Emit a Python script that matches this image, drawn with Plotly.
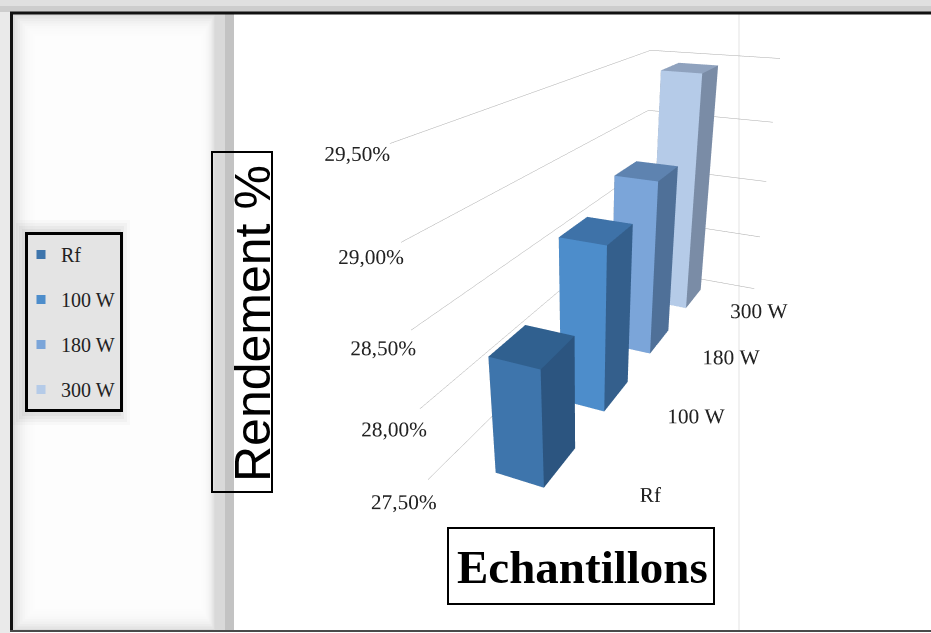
import plotly.graph_objects as go

# Samples along the depth axis and their yield (%)
series = ["Rf", "100 W", "180 W", "300 W"]
rendement = [28.30, 28.70, 28.86, 29.45]

# Value-axis ticks
z_ticks = [27.5, 28.0, 28.5, 29.0, 29.5]
z_text = [f"{v:.2f}%".replace(".", ",") for v in z_ticks]
z_base = z_ticks[0]

# Face colours per series (front, side, top)
front_col = ["#3E75AC", "#4D8DCB", "#7BA5D9", "#B5CBE8"]
side_col = ["#2C5580", "#345F8C", "#4F7098", "#7A8CA6"]
top_col = ["#30608F", "#3E72A8", "#5E83B0", "#8FA2BE"]

W, H = 931, 633


def X(p):
    """pixel column -> paper x"""
    return p / W


def Y(p):
    """pixel row -> paper y"""
    return 1 - p / H


BAR_W = 0.30    # bar width along the category axis
BAR_D = 0.48    # bar depth along the series axis
X_SHIFT = 0.048  # category axis offset

fig = go.Figure()

TRI = [(0, 1, 2), (0, 2, 3),      # bottom
       (4, 5, 6), (4, 6, 7),      # top
       (0, 1, 5), (0, 5, 4),      # front
       (3, 2, 6), (3, 6, 7),      # back
       (0, 3, 7), (0, 7, 4),      # left
       (1, 2, 6), (1, 6, 5)]      # right

for i, (name, val) in enumerate(zip(series, rendement)):
    x0, x1 = -BAR_W / 2, BAR_W / 2
    y0, y1 = i - BAR_D / 2, i + BAR_D / 2
    z0, z1 = z_base, val
    xs = [x0, x1, x1, x0, x0, x1, x1, x0]
    ys = [y0, y0, y1, y1, y0, y0, y1, y1]
    zs = [z0, z0, z0, z0, z1, z1, z1, z1]
    fc = ([side_col[i]] * 2 + [top_col[i]] * 2 + [front_col[i]] * 2
          + [side_col[i]] * 6)
    fig.add_trace(go.Mesh3d(
        x=xs, y=ys, z=zs,
        i=[t[0] for t in TRI], j=[t[1] for t in TRI], k=[t[2] for t in TRI],
        facecolor=fc, flatshading=True,
        lighting=dict(ambient=1.0, diffuse=0.0, specular=0.0, roughness=1.0, fresnel=0.0),
        showlegend=False, hoverinfo="skip"))
    # legend entry (a square swatch sitting inside the bar)
    fig.add_trace(go.Scatter3d(
        x=[0], y=[i], z=[(z_base + val) / 2], mode="markers",
        marker=dict(symbol="square", size=9, color=front_col[i]),
        name=name, legendgroup=name, showlegend=True, hoverinfo="skip"))

axis_common = dict(showbackground=False, showspikes=False, zeroline=False,
                   showline=False, title=dict(text=""), tickangle=0)

fig.update_layout(
    width=W, height=H, margin=dict(l=0, r=0, t=0, b=0), paper_bgcolor="white",
    scene=dict(
        domain=dict(x=[X(231), 1.0], y=[0.0, 1.0]),
        bgcolor="rgba(0,0,0,0)",
        xaxis=dict(range=[X_SHIFT - 0.5, X_SHIFT + 0.5], showgrid=False,
                   showticklabels=False, ticks="", **axis_common),
        yaxis=dict(range=[-0.5, len(series) - 0.5], tickvals=list(range(len(series))),
                   ticktext=series, showgrid=False, ticks="",
                   tickfont=dict(family="Liberation Serif", size=16, color="#222"),
                   **axis_common),
        zaxis=dict(range=[z_ticks[0], z_ticks[-1]], tickvals=z_ticks, ticktext=z_text,
                   showgrid=True, gridcolor="#ABABAB", gridwidth=1,
                   ticks="outside", ticklen=18, tickcolor="white",
                   tickfont=dict(family="Liberation Serif", size=16, color="#222"),
                   **axis_common),
        aspectmode="manual",
        aspectratio=dict(x=0.544, y=1.752, z=1.0),
        camera=dict(eye=dict(x=0.906, y=-2.312, z=0.950),
                    center=dict(x=0.044, y=-0.484, z=-0.070),
                    up=dict(x=0, y=0, z=1), projection=dict(type="perspective")),
    ),
    legend=dict(x=X(25), y=Y(232), xanchor="left", yanchor="top",
                bgcolor="#E4E4E4", bordercolor="#000000", borderwidth=3,
                font=dict(family="Liberation Serif", size=20, color="#222"),
                tracegroupgap=16, indentation=-7),
)

shapes = []


def rect(x0, y0, x1, y1, fill="rgba(0,0,0,0)", line=None, layer="below"):
    shapes.append(dict(type="rect", xref="paper", yref="paper",
                       x0=X(x0), x1=X(x1), y0=Y(y1), y1=Y(y0),
                       fillcolor=fill, line=line or dict(width=0), layer=layer))


def hline(x0, x1, y, color, width):
    shapes.append(dict(type="line", xref="paper", yref="paper", x0=X(x0), x1=X(x1),
                       y0=Y(y), y1=Y(y), line=dict(color=color, width=width), layer="above"))


def vline(x, y0, y1, color, width, layer="above"):
    shapes.append(dict(type="line", xref="paper", yref="paper", x0=X(x), x1=X(x),
                       y0=Y(y0), y1=Y(y1), line=dict(color=color, width=width), layer=layer))


# grey shadow around the frame
rect(0, 0, W, 6, "#E0E0E0")
rect(0, 6, W, 12, "#CDCDCD")
rect(0, 12, 10, H, "#EAEAEA")
# left panel: grey edges fading to white
rect(13, 14, 215, 631, "#DCDCDC")
for k in range(12):
    m = 2 + 2.5 * k
    rect(13 + m, 14 + m, 215 - m * 0.6, 631 - m, "rgba(255,255,255,0.28)")
# separator bands between the panel and the plot area
rect(215, 14, 225, 631, "#D9D9D9")
rect(225, 14, 234, 631, "#C3C3C3")
# soft glow behind the legend
for k, a in enumerate([0.04, 0.05, 0.06, 0.07]):
    m = 12 - 3 * k
    rect(25 - m, 232 - m, 118 + m, 413 + m, f"rgba(120,120,120,{a})")
# faint vertical rule in the plot area
vline(739, 14, 631, "#E3E3E3", 1, layer="below")
# frame
hline(10, W, 13, "#111111", 3)
vline(11.5, 12, 632, "#111111", 3)
hline(10, W, 631, "#4A4A4A", 2)
# axis-title boxes
rect(212, 152, 272, 492, line=dict(color="#000000", width=2), layer="above")
rect(448, 528, 714, 604, line=dict(color="#000000", width=2), layer="above")

annotations = [
    dict(text="Rendement %", x=X(253), y=Y(324), xref="paper", yref="paper",
         textangle=-90, showarrow=False, xanchor="center", yanchor="middle",
         font=dict(family="Liberation Sans", size=50, color="#000")),
    dict(text="<b>Echantillons</b>", x=X(582), y=Y(567), xref="paper", yref="paper",
         showarrow=False, xanchor="center", yanchor="middle",
         font=dict(family="Liberation Serif", size=47, color="#000")),
]

fig.update_layout(shapes=shapes, annotations=annotations)
fig.write_html("out.html")
